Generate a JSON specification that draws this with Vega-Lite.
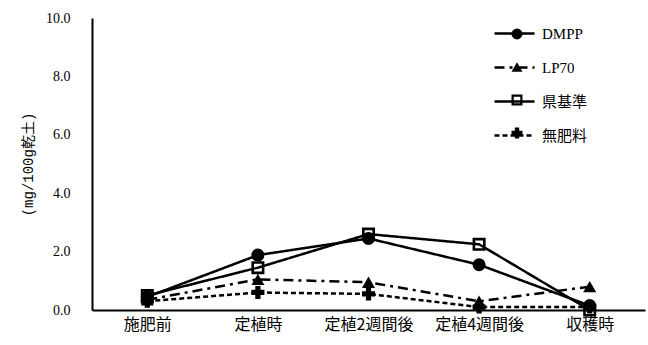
{
  "$schema": "https://vega.github.io/schema/vega-lite/v6.json",
  "autosize": {"type": "none"},
  "width": 553,
  "height": 292,
  "padding": {"left": 92, "top": 18, "right": 3, "bottom": 35},
  "background": "white",
  "config": {"view": {"stroke": null}},
  "data": {"values": [
    {"time": "施肥前", "series": "DMPP", "value": 0.45},
    {"time": "定植時", "series": "DMPP", "value": 1.88},
    {"time": "定植2週間後", "series": "DMPP", "value": 2.45},
    {"time": "定植4週間後", "series": "DMPP", "value": 1.55},
    {"time": "収穫時", "series": "DMPP", "value": 0.15},
    {"time": "施肥前", "series": "LP70", "value": 0.35},
    {"time": "定植時", "series": "LP70", "value": 1.05},
    {"time": "定植2週間後", "series": "LP70", "value": 0.95},
    {"time": "定植4週間後", "series": "LP70", "value": 0.3},
    {"time": "収穫時", "series": "LP70", "value": 0.8},
    {"time": "施肥前", "series": "県基準", "value": 0.5},
    {"time": "定植時", "series": "県基準", "value": 1.45},
    {"time": "定植2週間後", "series": "県基準", "value": 2.6},
    {"time": "定植4週間後", "series": "県基準", "value": 2.25},
    {"time": "収穫時", "series": "県基準", "value": 0.0},
    {"time": "施肥前", "series": "無肥料", "value": 0.3},
    {"time": "定植時", "series": "無肥料", "value": 0.6},
    {"time": "定植2週間後", "series": "無肥料", "value": 0.55},
    {"time": "定植4週間後", "series": "無肥料", "value": 0.1},
    {"time": "収穫時", "series": "無肥料", "value": 0.1}
  ]},
  "encoding": {
    "x": {"field": "time", "type": "ordinal", "sort": ["施肥前", "定植時", "定植2週間後", "定植4週間後", "収穫時"],
      "scale": {"type": "point", "padding": 0.5},
      "axis": {"title": null, "labelAngle": 0, "ticks": false, "domainColor": "black", "domainWidth": 2, "labelFont": "Noto Sans CJK JP", "labelFontSize": 16, "labelColor": "black", "labelPadding": 6, "grid": false}},
    "y": {"field": "value", "type": "quantitative",
      "scale": {"domain": [0, 10]},
      "axis": {"title": "(mg/100g乾土)", "titleFont": "Liberation Mono, Noto Sans CJK JP", "titleFontSize": 14, "titleFontWeight": "normal", "titleColor": "black", "titlePadding": 10, "values": [0, 2, 4, 6, 8, 10], "format": ".1f", "labelFont": "Liberation Serif", "labelFontSize": 14, "labelColor": "black", "labelPadding": 22, "ticks": false, "grid": false, "domainColor": "black", "domainWidth": 2}}
  },
  "layer": [
    {
      "mark": {"type": "line", "color": "black", "strokeWidth": 2.5},
      "encoding": {
        "strokeDash": {"field": "series", "type": "nominal",
          "scale": {"domain": ["DMPP", "LP70", "県基準", "無肥料"], "range": [[1, 0], [10, 5, 3, 5], [1, 0], [5, 3]]},
          "legend": {"orient": "none", "legendX": 401, "legendY": -6, "title": null, "padding": 0, "symbolType": "stroke", "symbolSize": 1600, "symbolStrokeWidth": 2.5, "symbolStrokeColor": "black", "labelFont": "Liberation Serif, Noto Sans CJK JP", "labelFontSize": 15, "labelColor": "black", "labelOffset": 6, "rowPadding": 4}}
      }
    },
    {
      "mark": {"type": "point", "filled": true, "color": "black", "size": 170, "opacity": 1},
      "encoding": {
        "shape": {"field": "series", "type": "nominal", "sort": ["DMPP", "LP70", "県基準", "無肥料"],
          "scale": {"range": ["circle", "triangle-up", "M-1,-1H1V1H-1Z M-0.6,-0.6V0.6H0.6V-0.6Z", "cross"]},
          "legend": {"orient": "none", "legendX": 416, "legendY": 7, "title": null, "padding": 0, "symbolSize": 120, "symbolFillColor": "black", "symbolStrokeWidth": 0, "labelExpr": "' '", "labelFontSize": 18, "labelOffset": 0, "gridAlign": "all", "rowPadding": 15}}
      }
    }
  ]
}
